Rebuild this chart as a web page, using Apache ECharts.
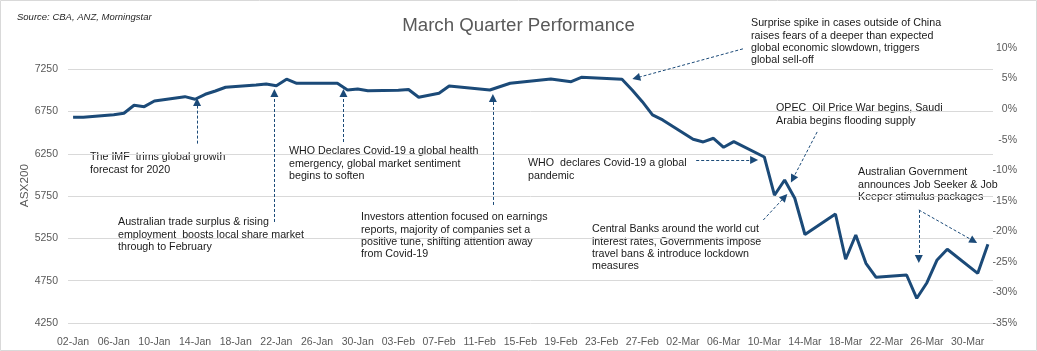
<!DOCTYPE html>
<html>
<head>
<meta charset="utf-8">
<script src="https://cdn.jsdelivr.net/npm/echarts@6/dist/echarts.min.js"></script>
<style>
  html, body { margin: 0; padding: 0; background: #fff; }
  #chart { width: 1037px; height: 351px; }
</style>
</head>
<body>
<div id="chart"></div>
<script>
// ASX200 closes (dates as plotted, MM-DD, 2020)
var dates = ['01-02','01-03','01-06','01-07','01-08','01-09','01-10','01-13','01-14','01-15',
             '01-16','01-17','01-20','01-21','01-22','01-23','01-24','01-28','01-29','01-30',
             '01-31','02-03','02-04','02-05','02-07','02-08','02-12','02-14','02-18','02-20',
             '02-21','02-25','02-26','02-27','02-28','02-29','03-03','03-04','03-05','03-06',
             '03-07','03-10','03-11','03-12','03-13','03-14','03-17','03-18','03-19','03-20',
             '03-21','03-24','03-25','03-26','03-27','03-28','03-31','04-01'];
var asx = [6681, 6683, 6712, 6729, 6823, 6807, 6874, 6925, 6894, 6953,
           6992, 7036, 7062, 7075, 7055, 7131, 7083, 7083, 7004, 7016,
           6995, 7000, 7010, 6918, 6965, 7051, 7004, 7083, 7134, 7102,
           7154, 7130, 7004, 6866, 6709, 6650, 6421, 6390, 6433, 6327,
           6393, 6212, 5760, 5940, 5724, 5296, 5538, 5003, 5290, 4956,
           4790, 4817, 4542, 4726, 4995, 5121, 4837, 5180];

var tickLabels = ['02-Jan','06-Jan','10-Jan','14-Jan','18-Jan','22-Jan','26-Jan','30-Jan',
                  '03-Feb','07-Feb','11-Feb','15-Feb','19-Feb','23-Feb','27-Feb','02-Mar',
                  '06-Mar','10-Mar','14-Mar','18-Mar','22-Mar','26-Mar','30-Mar'];

// annotation arrows in data space: [day from, value from, day to, value to]
var arrows = [
  [12.2, 6370, 12.2, 6862],
  [19.8, 5444, 19.8, 6969],
  [26.6, 6389, 26.6, 6969],
  [41.3, 5645, 41.3, 6910],
  [61.3, 6177, 67.0, 6177],
  [65.9, 7490, 55.4, 7146],
  [73.2, 6508, 70.8, 5952],
  [67.9, 5467, 70.0, 5739],
  [83.2, 5586, 83.2, 5007],
  [83.2, 5586, 88.6, 5219]
];

var notes = [
  { x: 90,  y: 151, text: 'The IMF  trims global growth\nforecast for 2020' },
  { x: 118, y: 216, text: 'Australian trade surplus & rising\nemployment  boosts local share market\nthrough to February' },
  { x: 289, y: 145, text: 'WHO Declares Covid-19 a global health\nemergency, global market sentiment\nbegins to soften' },
  { x: 361, y: 211, text: 'Investors attention focused on earnings\nreports, majority of companies set a\npositive tune, shifting attention away\nfrom Covid-19' },
  { x: 528, y: 157, text: 'WHO  declares Covid-19 a global\npandemic' },
  { x: 751, y: 17,  text: 'Surprise spike in cases outside of China\nraises fears of a deeper than expected\nglobal economic slowdown, triggers\nglobal sell-off' },
  { x: 776, y: 102, text: 'OPEC  Oil Price War begins, Saudi\nArabia begins flooding supply' },
  { x: 592, y: 223, text: 'Central Banks around the world cut\ninterest rates, Governments impose\ntravel bans & introduce lockdown\nmeasures' },
  { x: 858, y: 166, text: 'Australian Government\nannounces Job Seeker & Job\nKeeper stimulus packages' }
];

// day index counted from 02-Jan-2020
function dayIndex(md) {
  var p = md.split('-');
  var d = Date.UTC(2020, +p[0] - 1, +p[1]);
  return Math.round((d - Date.UTC(2020, 0, 2)) / 86400000);
}

var lineData = dates.map(function (d, i) { return [dayIndex(d), asx[i]]; });
var tickDays = tickLabels.map(function (l, k) { return k * 4; });

var chart = echarts.init(document.getElementById('chart'));
var font = '"Liberation Sans", Arial, sans-serif';
var navy = '#1b4a78';

var option = {
  animation: false,
  title: {
    text: 'March Quarter Performance',
    left: 'center',
    top: 11,
    textStyle: { fontFamily: font, fontSize: 18.7, fontWeight: 'normal', color: '#595959' }
  },
  grid: { left: 68, right: 44, top: 48, bottom: 28 },
  xAxis: {
    type: 'value',
    min: -0.5,
    max: 90.5,
    axisLine: { show: false },
    axisTick: { show: false },
    splitLine: { show: false },
    axisLabel: {
      customValues: tickDays,
      margin: 14,
      fontFamily: font,
      fontSize: 10.5,
      color: '#595959',
      formatter: function (v) { return tickLabels[Math.round(v / 4)]; }
    }
  },
  yAxis: [
    {
      type: 'value',
      min: 4250,
      max: 7500,
      interval: 500,
      name: 'ASX200',
      nameLocation: 'middle',
      nameGap: 37,
      nameMoveOverlap: false,
      nameTextStyle: { fontFamily: font, fontSize: 11.8, color: '#595959' },
      axisLine: { show: false },
      axisTick: { show: false },
      axisLabel: {
        showMaxLabel: false,
        margin: 10,
        fontFamily: font,
        fontSize: 10.5,
        color: '#595959',
        formatter: function (v) { return String(v); }
      },
      splitLine: { showMaxLine: false, lineStyle: { color: '#d9d9d9', width: 1 } }
    },
    {
      type: 'value',
      min: -35,
      max: 10,
      interval: 5,
      position: 'right',
      axisLine: { show: false },
      axisTick: { show: false },
      splitLine: { show: false },
      axisLabel: {
        align: 'right',
        margin: 24,
        fontFamily: font,
        fontSize: 10.5,
        color: '#595959',
        formatter: function (v) { return v + '%'; }
      }
    }
  ],
  series: [
    {
      type: 'line',
      data: lineData,
      showSymbol: false,
      lineStyle: { color: navy, width: 3 },
      itemStyle: { color: navy },
      silent: true,
      markLine: {
        silent: true,
        symbol: ['none', 'triangle'],
        symbolSize: 8,
        label: { show: false },
        lineStyle: { color: navy, width: 1, type: [3, 2] },
        emphasis: { disabled: true },
        data: arrows.map(function (a) {
          return [{ coord: [a[0], a[1]] }, { coord: [a[2], a[3]] }];
        })
      }
    }
  ],
  graphic: [
    {
      type: 'rect',
      silent: true,
      shape: { x: 0.5, y: 0.5, width: 1036, height: 350 },
      style: { fill: null, stroke: '#d9d9d9', lineWidth: 1 }
    },
    {
      type: 'text',
      left: 17,
      top: 12,
      silent: true,
      style: { text: 'Source: CBA, ANZ, Morningstar', font: 'italic 9.5px ' + font, fill: '#262626' }
    }
  ].concat(notes.map(function (n) {
    return {
      type: 'text',
      left: n.x,
      top: n.y,
      silent: true,
      style: { text: n.text, font: '10.7px ' + font, fill: '#1a1a1a', lineHeight: 12.4 }
    };
  }))
};

chart.setOption(option);
</script>
</body>
</html>
